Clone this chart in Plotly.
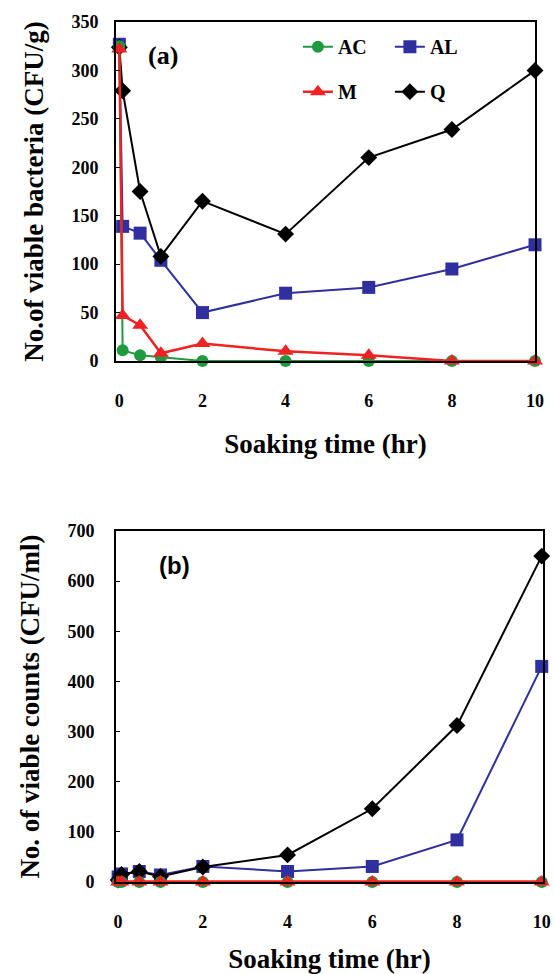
import plotly.graph_objects as go

# ---- data ----
time_h = [0, 0.08, 0.5, 1, 2, 4, 6, 8, 10]

a_AC = [325, 11, 6, 4, 0, 0, 0, 0, 0]
a_AL = [327, 139, 132, 104, 50, 70, 76, 95, 120]
a_M = [322, 47, 37, 8, 18, 10, 6, 0, 0]
a_Q = [324, 279, 175, 108, 165, 131, 210, 239, 300]

b_AC = [0, 0, 0, 0, 0, 0, 0, 0, 0]
b_AL = [10, 16, 21, 14, 31, 21, 31, 84, 430]
b_M = [0, 0, 0, 0, 0, 0, 0, 0, 0]
b_Q = [4, 15, 21, 11, 30, 54, 146, 312, 650]

x_ticks = [0, 2, 4, 6, 8, 10]
ya_ticks = [0, 50, 100, 150, 200, 250, 300, 350]
yb_ticks = [0, 100, 200, 300, 400, 500, 600, 700]

# ---- styles ----
style = {
    "AC": dict(color="#1f9a3e", symbol="circle", size=12, lw=2, rank=1, leg="legend"),
    "AL": dict(color="#2f2f9f", symbol="square", size=13, lw=2, rank=2, leg="legend"),
    "M": dict(color="#ee2222", symbol="triangle-up", size=14, lw=2.5, rank=3, leg="legend2"),
    "Q": dict(color="#000000", symbol="diamond", size=13, lw=2, rank=4, leg="legend2"),
}
draw_order = ["AL", "Q", "AC", "M"]
data_a = {"AC": a_AC, "AL": a_AL, "M": a_M, "Q": a_Q}
data_b = {"AC": b_AC, "AL": b_AL, "M": b_M, "Q": b_Q}

SERIF = "Liberation Serif"
fig = go.Figure()

for panel, data, xa, ya in [("a", data_a, "x", "y"), ("b", data_b, "x2", "y2")]:
    for name in draw_order:
        s = style[name]
        fig.add_trace(go.Scatter(
            x=time_h, y=data[name], name=name, mode="lines+markers",
            xaxis=xa, yaxis=ya, cliponaxis=False,
            line=dict(color=s["color"], width=s["lw"] + (1 if (panel == "b" and name == "M") else 0)),
            marker=dict(symbol=s["symbol"], size=s["size"], color=s["color"], line=dict(width=0)),
            showlegend=(panel == "a"), legend=s["leg"], legendrank=s["rank"],
        ))

axis_common = dict(
    showline=True, linecolor="black", linewidth=2, mirror=True,
    showgrid=False, zeroline=False, automargin=False,
    tickfont=dict(family=SERIF, size=18, color="black", weight="bold"),
)
title_font = dict(family=SERIF, size=27, color="black")

fig.update_layout(
    width=555, height=974,
    margin=dict(l=116, r=12, t=22, b=92, autoexpand=False),
    paper_bgcolor="white", plot_bgcolor="white",
    font=dict(family=SERIF, color="black"),
    xaxis=dict(domain=[0, 0.9813], range=[-0.08, 10.0], anchor="y",
               tickvals=x_ticks, ticks="", ticklabelstandoff=22,
               title=dict(text="<b>Soaking time (hr)</b>", font=title_font, standoff=24),
               **axis_common),
    yaxis=dict(domain=[0.6058, 1.0], range=[0, 350], anchor="x",
               tickvals=ya_ticks, ticks="inside", ticklen=4, tickwidth=1, tickcolor="black",
               ticklabelstandoff=12,
               title=dict(text="<b>No.of viable bacteria (CFU/g)</b>", font=title_font, standoff=20),
               **axis_common),
    xaxis2=dict(domain=[0, 1.0], range=[-0.05, 10.03], anchor="y2",
                tickvals=x_ticks, ticks="", ticklabelstandoff=22,
                title=dict(text="<b>Soaking time (hr)</b>", font=title_font, standoff=22),
                **axis_common),
    yaxis2=dict(domain=[0, 0.4081], range=[0, 700], anchor="x2",
                tickvals=yb_ticks, ticks="inside", ticklen=4, tickwidth=1, tickcolor="black",
                ticklabelstandoff=16,
                title=dict(text="<b>No. of viable counts (CFU/ml)</b>", font=title_font, standoff=20),
                **axis_common),
    legend=dict(orientation="h", x=0.426, xanchor="left", y=0.9713, yanchor="middle",
                bgcolor="rgba(0,0,0,0)", entrywidth=47, traceorder="normal",
                font=dict(family=SERIF, size=20, color="black", weight="bold")),
    legend2=dict(orientation="h", x=0.426, xanchor="left", y=0.919, yanchor="middle",
                 bgcolor="rgba(0,0,0,0)", entrywidth=47, traceorder="normal",
                 font=dict(family=SERIF, size=20, color="black", weight="bold")),
    annotations=[
        dict(text="<b>(a)</b>", xref="paper", yref="paper", x=0.111, y=0.9616,
             showarrow=False, xanchor="center", yanchor="middle",
             font=dict(family=SERIF, size=26, color="black")),
        dict(text="<b>(b)</b>", xref="paper", yref="paper", x=0.138, y=0.3686,
             showarrow=False, xanchor="center", yanchor="middle",
             font=dict(family="Liberation Sans", size=24, color="black")),
    ],
)

fig.write_html("out.html")
